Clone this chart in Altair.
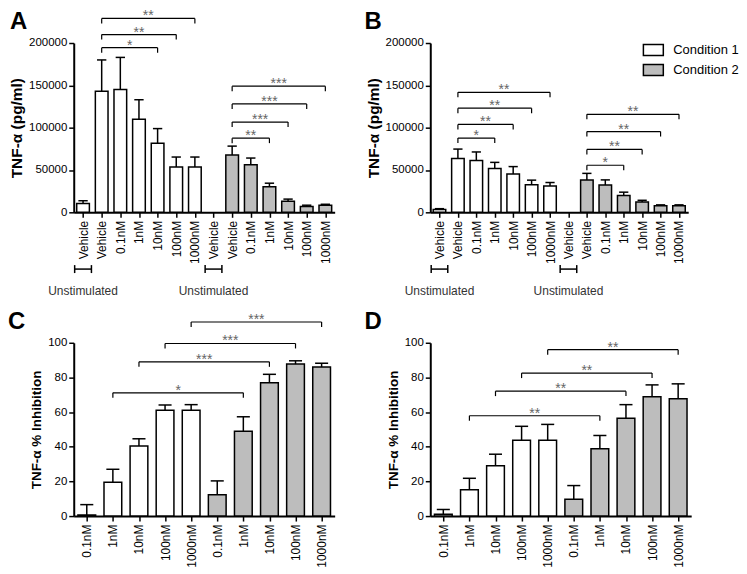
import json
import altair as alt
import pandas as pd

# ---------------- data ----------------
AB_labels = ["Vehicle", "Vehicle", "0.1nM", "1nM", "10nM", "100nM", "1000nM",
             "Vehicle", "Vehicle", "0.1nM", "1nM", "10nM", "100nM", "1000nM"]
AB_cond = ["Condition 1"] * 7 + ["Condition 2"] * 7

A_mean = [10300, 143000, 145000, 110000, 81700, 53500, 53500,
          None, 67600, 56100, 30200, 13000, 6900, 8400]
A_err = [3400, 37000, 38000, 23000, 17200, 11800, 11800,
         None, 10600, 8000, 4200, 2600, 1500, 1100]

B_mean = [3400, 63600, 61300, 51700, 45200, 32600, 31000,
          None, 38300, 32200, 20000, 12300, 7700, 7700]
B_err = [900, 11100, 10000, 7300, 8800, 5400, 4200,
         None, 7700, 6100, 3800, 1900, 1100, 1100]

CD_labels = ["0.1nM", "1nM", "10nM", "100nM", "1000nM",
             "0.1nM", "1nM", "10nM", "100nM", "1000nM"]
CD_cond = ["Condition 1"] * 5 + ["Condition 2"] * 5

C_mean = [0.6, 19.5, 40.4, 61.1, 61.1, 12.3, 49.0, 76.9, 87.7, 86.0]
C_err = [6.0, 7.5, 4.2, 3.0, 3.2, 8.0, 8.3, 4.9, 1.9, 2.2]

D_mean = [1.0, 15.2, 29.0, 43.8, 43.8, 9.7, 38.9, 56.5, 68.9, 67.7]
D_err = [2.8, 6.6, 6.7, 8.0, 9.1, 7.9, 7.6, 7.8, 6.8, 8.6]

# brackets: (from index, to index, height, label)
A_brackets = [(1, 6, 229000, "**"), (1, 5, 210000, "**"), (1, 4, 194500, "*"),
              (8, 13, 149000, "***"), (8, 12, 128000, "***"), (8, 11, 106600, "***"),
              (8, 10, 87600, "**")]
B_brackets = [(1, 6, 141800, "**"), (1, 5, 123000, "**"), (1, 4, 103800, "**"),
              (1, 3, 87700, "*"), (8, 13, 115700, "**"), (8, 12, 95400, "**"),
              (8, 11, 74300, "**"), (8, 10, 55600, "*")]
C_brackets = [(1, 6, 71.1, "*"), (2, 7, 89.0, "***"), (3, 8, 99.6, "***"), (4, 9, 112.0, "***")]
D_brackets = [(1, 6, 57.9, "**"), (2, 7, 72.1, "**"), (3, 8, 82.5, "**"), (4, 9, 96.0, "**")]

AB_unstim = [0, 7]
AB_yticks = [0, 50000, 100000, 150000, 200000]
CD_yticks = [0, 20, 40, 60, 80, 100]

COND = ["Condition 1", "Condition 2"]
COLORS = ["#ffffff", "#bdbdbd"]
FONT = "Liberation Sans"


def panel(letter, labels, cond, mean, err, brackets, ymax, yticks, ytitle,
          width, height, title_size, letter_dx, unstim=None, legend=False):
    n = len(labels)
    xs = alt.Scale(domain=[-0.5, n - 0.5], nice=False, zero=False)
    ys = alt.Scale(domain=[0, ymax], nice=False, zero=False)
    px = ymax / height  # data units per pixel

    rows = [dict(idx=i, cond=c, mean=m, top=m + e, zero=0, x1=i - 0.34, x2=i + 0.34,
                 c1=i - 0.25, c2=i + 0.25)
            for i, (c, m, e) in enumerate(zip(cond, mean, err)) if m is not None]
    bars = pd.DataFrame(rows)

    labexpr = json.dumps(labels) + "[datum.value]"
    xaxis = alt.Axis(values=list(range(n)), labelExpr=labexpr, labelAngle=-90,
                     labelFontSize=12, labelPadding=3, tickSize=5, tickWidth=1.5,
                     domainWidth=2, domainColor="black", tickColor="black",
                     labelColor="black", grid=False, title=None,
                     labelFlush=False, labelOverlap=False, labelFont=FONT)
    yaxis = alt.Axis(values=yticks, format="d", labelFontSize=11.5, labelPadding=2,
                     tickSize=5, tickWidth=1.5, domainWidth=2, domainColor="black",
                     tickColor="black", labelColor="black", grid=False,
                     title=ytitle, titleFontSize=title_size, titleFontWeight="bold",
                     titleColor="black", titlePadding=4, labelFont=FONT,
                     titleFont=FONT, labelFlush=False)

    def X(f):
        return alt.X(f, type="quantitative", scale=xs, axis=xaxis)

    def Y(f):
        return alt.Y(f, type="quantitative", scale=ys, axis=yaxis)

    fill = alt.Fill("cond:N", scale=alt.Scale(domain=COND, range=COLORS),
                    legend=(alt.Legend(orient="none", legendX=width - 46, legendY=-4,
                                       title=None, labelFontSize=13, labelFont=FONT,
                                       labelColor="black",
                                       symbolType="M-1,-0.55H1V0.55H-1Z", symbolSize=400,
                                       symbolStrokeColor="black", symbolStrokeWidth=1.5,
                                       rowPadding=0, labelOffset=9)
                            if legend else None))

    base = alt.Chart(bars)
    bar_layer = base.mark_bar(stroke="black", strokeWidth=1.5).encode(
        x=X("x1"), x2="x2", y=Y("mean"), y2="zero", fill=fill)
    err_layer = base.mark_rule(color="black", strokeWidth=1.5).encode(
        x=X("idx"), y=Y("mean"), y2="top")
    cap_layer = base.mark_rule(color="black", strokeWidth=1.5).encode(
        x=X("c1"), x2="c2", y=Y("top"))

    d = 5 * px
    br = pd.DataFrame([dict(a=a, b=b, h=h, m=(a + b) / 2, s=s) for a, b, h, s in brackets])
    ends = pd.DataFrame([dict(x=v, h=h, lo=h - d) for a, b, h, s in brackets for v in (a, b)])
    br_h = alt.Chart(br).mark_rule(color="black", strokeWidth=1.2).encode(
        x=X("a"), x2="b", y=Y("h"))
    br_v = alt.Chart(ends).mark_rule(color="black", strokeWidth=1.2).encode(
        x=X("x"), y=Y("h"), y2="lo")
    stars = alt.Chart(br).mark_text(fontSize=14, color="#666666", baseline="alphabetic",
                                    dy=2, font=FONT).encode(
        x=X("m"), y=Y("h"), text="s:N")

    let = alt.Chart(pd.DataFrame({"t": [letter]})).mark_text(
        fontSize=24, fontWeight="bold", align="left", baseline="alphabetic",
        font=FONT, color="black").encode(
        x=alt.value(letter_dx), y=alt.value(-14), text="t:N")

    layers = [bar_layer, err_layer, cap_layer, br_h, br_v, stars, let]

    if unstim is not None:
        yb = -57 * px
        e = 4 * px
        yt = -79 * px
        ub = pd.DataFrame([dict(i=i, l=i - 0.45, r=i + 0.45, y=yb, yt=yt, t="Unstimulated")
                           for i in unstim])
        uends = pd.DataFrame([dict(x=v, y1=yb - e, y2=yb + e)
                              for i in unstim for v in (i - 0.45, i + 0.45)])
        layers += [
            alt.Chart(ub).mark_rule(color="black", strokeWidth=1.5).encode(
                x=X("l"), x2="r", y=Y("y")),
            alt.Chart(uends).mark_rule(color="black", strokeWidth=1.5).encode(
                x=X("x"), y=Y("y1"), y2="y2"),
            alt.Chart(ub).mark_text(fontSize=12, color="#333333", baseline="middle",
                                    font=FONT).encode(
                x=X("i"), y=Y("yt"), text="t:N"),
        ]

    return alt.layer(*layers).properties(width=width, height=height)


A = panel("A", AB_labels, AB_cond, A_mean, A_err, A_brackets, 200000, AB_yticks,
          "TNF-α (pg/ml)", 262, 170, 15.5, -64, unstim=AB_unstim)
B = panel("B", AB_labels, AB_cond, B_mean, B_err, B_brackets, 200000, AB_yticks,
          "TNF-α (pg/ml)", 259, 170, 15.5, -66, unstim=AB_unstim, legend=True)
C = panel("C", CD_labels, CD_cond, C_mean, C_err, C_brackets, 100, CD_yticks,
          "TNF-α % Inhibition", 262, 174, 13.5, -66)
D = panel("D", CD_labels, CD_cond, D_mean, D_err, D_brackets, 100, CD_yticks,
          "TNF-α % Inhibition", 262, 174, 13.5, -66)

chart = alt.concat(A, B, C, D, columns=2, spacing={"row": 12, "column": 30}).resolve_scale(
    fill="independent").properties(
    padding={"left": 0, "top": 0, "right": 0, "bottom": 2}
).configure(font=FONT, view=alt.ViewConfig(stroke=None))

chart.save("out.html", embed_options={"renderer": "svg", "actions": False})
